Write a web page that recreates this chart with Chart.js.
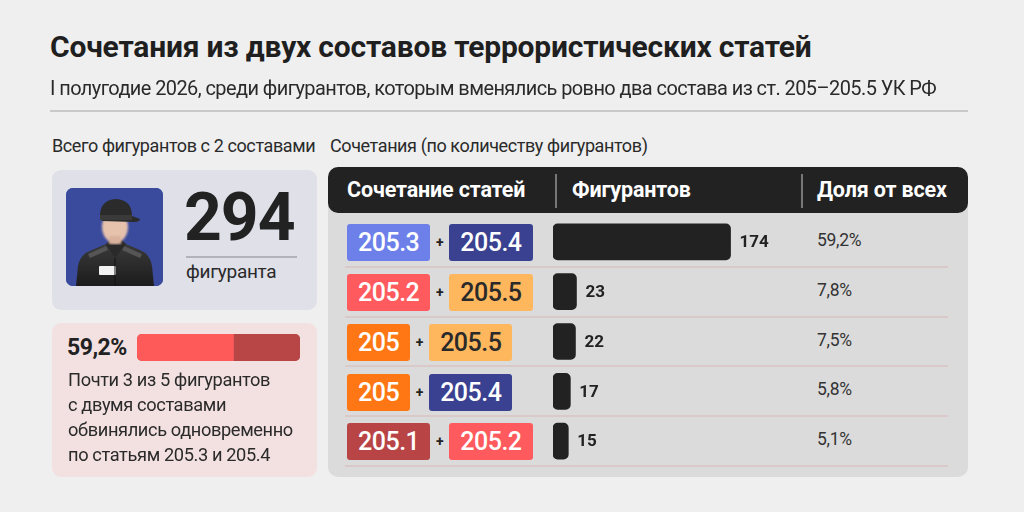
<!DOCTYPE html>
<html><head><meta charset="utf-8">
<script src="https://cdn.jsdelivr.net/npm/chart.js@4.4.1/dist/chart.umd.min.js"></script>
<style>
html,body{margin:0;padding:0}
body{width:1024px;height:512px;background:#efefef;font-family:Roboto,"Noto Sans",sans-serif;color:#222;position:relative;overflow:hidden}
.a{position:absolute;white-space:nowrap}
#title{left:50px;top:32px;font-size:30px;line-height:30px;font-weight:700;color:#1f1f1f;letter-spacing:-0.2px}
#sub{left:50px;top:76px;font-size:21px;color:#2a2a2a;letter-spacing:-0.6px;transform:scaleX(0.95);transform-origin:0 0}
#rule{left:50px;top:110px;width:918px;height:2px;background:#c9c9c9}
.lab{top:135px;font-size:18px;color:#2a2a2a;letter-spacing:-0.4px}
#card1{left:52px;top:170px;width:265px;height:140px;background:#dfe0e8;border-radius:9px}
#card2{left:52px;top:323px;width:265px;height:154px;background:#f3e1e1;border-radius:9px}
#img{left:66px;top:188px;width:97px;height:98px;border-radius:7px;overflow:hidden;background:#3a4a9c}
#big{left:184px;top:178px;font-size:66px;font-weight:700;color:#222;letter-spacing:-1px;line-height:80px}
#bigrule{left:186px;top:256px;width:111px;height:2px;background:#b3b3bb}
#bigsub{left:186px;top:260px;font-size:19px;color:#2a2a2a;letter-spacing:-0.3px}
#pct{left:67px;top:334px;font-size:23px;font-weight:700;color:#222;letter-spacing:-0.5px;line-height:28px}
#pbarwrap{left:137px;top:334px;width:163px;height:27px;border-radius:5px;overflow:hidden;background:#b94646}
#para{left:68px;top:367px;font-size:19px;line-height:25px;color:#2a2a2a;letter-spacing:-0.4px;transform:scaleX(0.96);transform-origin:0 0}
#panel{left:328px;top:167px;width:640px;height:310px;background:#dbdbdb;border-radius:10px}
#head{left:328px;top:167px;width:640px;height:46px;background:#222;border-radius:10px}
.ht{top:167px;line-height:46px;font-size:21.5px;font-weight:700;color:#fff;letter-spacing:-0.15px}
.hsep{top:174px;width:2px;height:34px;background:#777}
.sep{left:345px;width:603px;height:2px;background:#d9c9c9}
.pill{display:inline-block;height:37px;line-height:37px;padding:0 11px;border-radius:3px;font-size:25px;font-weight:500;color:#fff;letter-spacing:-0.5px;vertical-align:middle}
.plus{display:inline-block;width:19px;text-align:center;font-size:14px;font-weight:700;color:#222;vertical-align:middle}
.prow{left:347px;height:37px;line-height:37px}
.share{left:817px;font-size:17.5px;color:#333;letter-spacing:-0.3px}
#bars{left:553px;top:217px}
</style></head><body>
<div class="a" id="title">Сочетания из двух составов террористических статей</div>
<div class="a" id="sub">I полугодие 2026, среди фигурантов, которым вменялись ровно два состава из ст. 205–205.5 УК РФ</div>
<div class="a" id="rule"></div>
<div class="a lab" style="left:52px">Всего фигурантов с 2 составами</div>
<div class="a lab" style="left:330px">Сочетания (по количеству фигурантов)</div>

<div class="a" id="card1"></div>
<div class="a" id="img">
<svg width="97" height="98" viewBox="0 0 97 98">
 <defs><filter id="bl"><feGaussianBlur stdDeviation="1.2"/></filter>
 <linearGradient id="jk" x1="0" y1="0" x2="0" y2="1"><stop offset="0" stop-color="#3a3a3a"/><stop offset="1" stop-color="#1c1c1c"/></linearGradient></defs>
 <rect width="97" height="98" fill="#3a4a9c"/>
 <path d="M10 98 L12 78 Q14 66 26 62 L40 56 L60 56 L74 62 Q84 66 86 78 L88 98 Z" fill="url(#jk)"/>
 <path d="M22 66 L40 58 L42 62 L24 70 Z M58 58 L76 66 L74 70 L56 62 Z" fill="#555"/>
 <path d="M40 56 L49 70 L60 56 L56 52 L44 52 Z" fill="#2a2a2a"/>
 <ellipse cx="49" cy="39" rx="13" ry="16" fill="#e6c2ad" filter="url(#bl)"/>
 <rect x="43" y="48" width="12" height="8" fill="#d8b29c" filter="url(#bl)"/>
 <path d="M34 30 Q33 12 50 11 Q66 12 66 28 L74 31 Q74 34 68 34 L36 33 Z" fill="#2b2b2b"/>
 <rect x="34" y="27" width="32" height="5" fill="#3a3a3a"/>
 <rect x="33" y="78" width="17" height="9" rx="1" fill="#f2f2f2"/>
 <line x1="49" y1="70" x2="49" y2="98" stroke="#111" stroke-width="1"/>
</svg>
</div>
<div class="a" id="big"></div>
<div class="a" id="bigrule"></div>
<div class="a" id="bigsub">фигуранта</div>

<div class="a" id="card2"></div>
<div class="a" id="pct"></div>
<div class="a" id="pbarwrap"><canvas id="pbar" width="163" height="27"></canvas></div>
<div class="a" id="para">Почти 3 из 5 фигурантов<br>с двумя составами<br>обвинялись одновременно<br>по статьям 205.3 и 205.4</div>

<div class="a" id="panel"></div>
<div class="a" id="head"></div>
<div class="a ht" style="left:347px">Сочетание статей</div>
<div class="a hsep" style="left:555px"></div>
<div class="a ht" style="left:572px">Фигурантов</div>
<div class="a hsep" style="left:801px"></div>
<div class="a ht" style="left:817px">Доля от всех</div>
<div id="rows"></div>
<canvas class="a" id="bars" width="250" height="249"></canvas>

<script>
// ---- data ----
const leftCodes  = ['205.3', '205.2', '205', '205', '205.1'];
const rightCodes = ['205.4', '205.5', '205.5', '205.4', '205.2'];
const counts     = [174, 23, 22, 17, 15];
const shares     = ['59,2%', '7,8%', '7,5%', '5,8%', '5,1%'];
const totalCount = 294;
const topSharePct = [59.2];
const restSharePct = [40.8];
const topShareLabel = '59,2%';

// ---- styles ----
const codeColors = {'205':'#ff7714','205.1':'#b84446','205.2':'#ff5a5d','205.3':'#6d80ea','205.4':'#3a4190','205.5':'#ffb75e'};
const codeText = {'205.5':'#2a2a2a'};
const rowTop = 217, rowH = 49.8;

document.getElementById('big').textContent = totalCount;
document.getElementById('pct').textContent = topShareLabel;

const rowsEl = document.getElementById('rows');
function pill(code){
  return `<span class="pill" style="background:${codeColors[code]};color:${codeText[code]||'#fff'}">${code}</span>`;
}
leftCodes.forEach((lc,i)=>{
  const c = rowTop + rowH*i + rowH/2;
  const r = document.createElement('div');
  r.className='a prow'; r.style.top=(c-19)+'px';
  r.innerHTML = pill(lc)+'<span class="plus">+</span>'+pill(rightCodes[i]);
  rowsEl.appendChild(r);
  const s = document.createElement('div');
  s.className='a share'; s.style.top=(c-12)+'px'; s.textContent=shares[i];
  rowsEl.appendChild(s);
  const sp = document.createElement('div');
  sp.className='a sep'; sp.style.top=(rowTop + rowH*(i+1) - 1)+'px';
  rowsEl.appendChild(sp);
});

const valueLabels = {
  id:'valueLabels',
  afterDatasetsDraw(chart){
    const ctx = chart.ctx; const meta = chart.getDatasetMeta(0);
    ctx.save(); ctx.font = '700 17px Roboto'; ctx.fillStyle = '#222'; ctx.textBaseline = 'middle';
    meta.data.forEach((bar,i)=>{ ctx.fillText(String(chart.data.datasets[0].data[i]), bar.x + 9, bar.y + 1); });
    ctx.restore();
  }
};

function draw(){
  new Chart(document.getElementById('bars'), {
    type:'bar',
    data:{ labels: leftCodes.map((l,i)=>l+' + '+rightCodes[i]),
      datasets:[{ data: counts, backgroundColor:'#222', borderRadius:5, borderSkipped:false, barThickness:36 }]},
    options:{ indexAxis:'y', responsive:false, animation:false,
      layout:{padding:0},
      plugins:{legend:{display:false}, tooltip:{enabled:false}},
      scales:{ x:{display:false, min:0, max:245}, y:{display:false} } },
    plugins:[valueLabels]
  });
  new Chart(document.getElementById('pbar'), {
    type:'bar',
    data:{ labels:['share'], datasets:[
      { data: topSharePct, backgroundColor:'#ff5a5a', barPercentage:1, categoryPercentage:1 },
      { data: restSharePct, backgroundColor:'#b94646', barPercentage:1, categoryPercentage:1 } ]},
    options:{ indexAxis:'y', responsive:false, animation:false, layout:{padding:0},
      plugins:{legend:{display:false}, tooltip:{enabled:false}},
      scales:{ x:{display:false, stacked:true, min:0, max:100}, y:{display:false, stacked:true} } }
  });
}
Promise.all([document.fonts.load('700 17px Roboto'), document.fonts.load('400 17px Roboto')]).then(draw, draw);
</script>
</body></html>
